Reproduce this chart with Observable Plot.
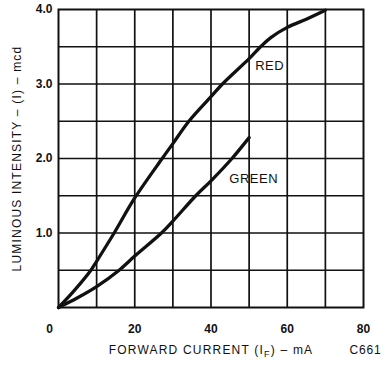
<!DOCTYPE html>
<html>
<head>
<meta charset="utf-8">
<script src="https://cdn.jsdelivr.net/npm/d3@7"></script>
<script src="https://cdn.jsdelivr.net/npm/@observablehq/plot@0.6"></script>
<style>
  html, body { margin: 0; padding: 0; background: #fff; }
  #chart svg { display: block; }
</style>
</head>
<body>
<div id="chart"></div>
<script>
// Forward current (mA) vs luminous intensity (mcd)
const redCurrent   = [0, 4, 8.5, 10, 14.6, 20, 27.2, 30, 34.2, 40, 43, 50, 53, 55.6, 60, 65, 70];
const redIntensity = [0, 0.22, 0.5, 0.62, 1.0, 1.47, 2.0, 2.2, 2.5, 2.83, 3.0, 3.34, 3.5, 3.62, 3.76, 3.87, 3.99];

const greenCurrent   = [0, 5, 10, 15.9, 20, 27, 30, 36, 40, 45.5, 50];
const greenIntensity = [0, 0.13, 0.28, 0.5, 0.69, 1.0, 1.16, 1.5, 1.7, 2.0, 2.28];

const xTickValues = [20, 40, 60, 80];
const xZeroTick = [0];
const yTickValues = [1, 2, 3, 4];
const xGridValues = [10, 20, 30, 40, 50, 60, 70];
const yGridValues = [0.5, 1, 1.5, 2, 2.5, 3, 3.5];

const seriesNames = ["RED", "GREEN"];
const seriesLabelX = [51.6, 44.8];
const seriesLabelY = [3.24, 1.73];

const xTitle = "FORWARD CURRENT (IF) – mA";
const yTitle = "LUMINOUS INTENSITY – (I) – mcd";
const figureCode = "C661";

const red = redCurrent.map((c, i) => ({current: c, intensity: redIntensity[i]}));
const green = greenCurrent.map((c, i) => ({current: c, intensity: greenIntensity[i]}));
const curveLabels = seriesNames.map((n, i) => ({name: n, x: seriesLabelX[i], y: seriesLabelY[i]}));

const font = "'Liberation Sans', Arial, Helvetica, sans-serif";
const ink = "#111";

const chart = Plot.plot({
  width: 390,
  height: 365,
  marginLeft: 58,
  marginRight: 27,
  marginTop: 9,
  marginBottom: 58,
  style: {fontFamily: font, fontSize: "12px", color: ink, background: "#fff"},
  x: {domain: [0, 80]},
  y: {domain: [0, 4]},
  marks: [
    Plot.gridX(xGridValues, {stroke: ink, strokeOpacity: 1, strokeWidth: 1.7}),
    Plot.gridY(yGridValues, {stroke: ink, strokeOpacity: 1, strokeWidth: 1.7}),
    Plot.frame({stroke: ink, strokeWidth: 2}),
    Plot.axisX(xTickValues, {tickSize: 0, tickPadding: 17, fontSize: 12, fontWeight: "bold", label: null}),
    Plot.axisX(xZeroTick, {tickSize: 0, tickPadding: 17, fontSize: 12, fontWeight: "bold", label: null, dx: -9}),
    Plot.axisY(yTickValues, {tickSize: 0, tickPadding: 6, fontSize: 12, fontWeight: "bold", label: null, tickFormat: d3.format(".1f")}),
    Plot.line(red, {x: "current", y: "intensity", stroke: ink, strokeWidth: 3.3, curve: "catmull-rom"}),
    Plot.line(green, {x: "current", y: "intensity", stroke: ink, strokeWidth: 3.3, curve: "catmull-rom"}),
    Plot.text(curveLabels, {x: "x", y: "y", text: "name", textAnchor: "start", fontSize: 13, fill: ink}),
    Plot.text([xTitle], {frameAnchor: "bottom", lineAnchor: "middle", dy: 43, fontSize: 12, fill: ink}),
    Plot.text([figureCode], {frameAnchor: "bottom-right", lineAnchor: "middle", textAnchor: "end", dx: 18, dy: 43, fontSize: 12, fill: ink}),
    Plot.text([yTitle], {frameAnchor: "left", textAnchor: "middle", lineAnchor: "middle", rotate: -90, dx: -41, fontSize: 12, fill: ink})
  ]
});

document.getElementById("chart").appendChild(chart);

// letter spacing + subscript F in the x title
const svg = d3.select(chart);
svg.selectAll("text").each(function () {
  const t = this.textContent;
  const s = d3.select(this);
  if (t === xTitle) {
    s.attr("letter-spacing", "1.2px");
    s.text(null);
    s.append("tspan").text("FORWARD CURRENT (I");
    s.append("tspan").attr("dy", 3).attr("font-size", 9).text("F");
    s.append("tspan").attr("dy", -3).text(") – mA");
  } else if (t === yTitle) {
    s.attr("letter-spacing", "1.2px");
  } else if (t === "RED" || t === "GREEN") {
    s.attr("letter-spacing", "0.5px");
  } else if (t === figureCode) {
    s.attr("letter-spacing", "0.8px");
  }
});
</script>
</body>
</html>
